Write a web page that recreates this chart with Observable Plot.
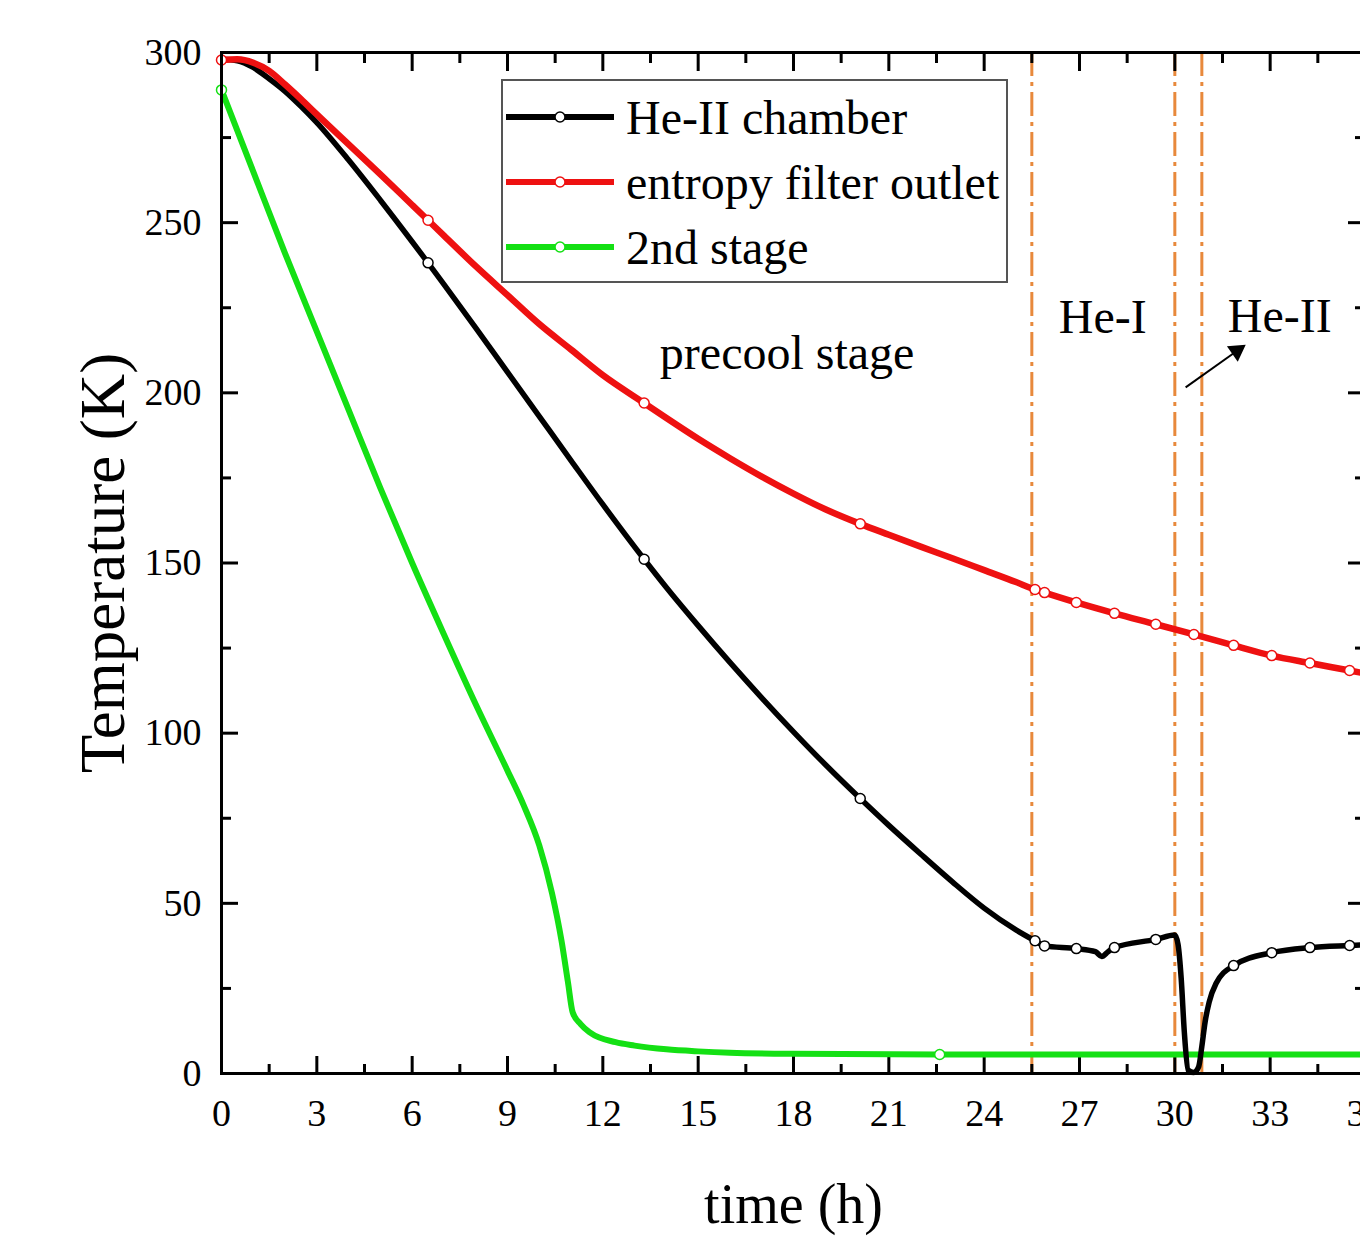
<!DOCTYPE html>
<html>
<head>
<meta charset="utf-8">
<script src="https://cdn.jsdelivr.net/npm/d3@7"></script>
<script src="https://cdn.jsdelivr.net/npm/@observablehq/plot@0.6"></script>
<style>
  body { margin: 0; background: #fff; }
  #wrap { position: relative; width: 1360px; height: 1238px; overflow: hidden; background: #fff; }
  #legend { position: absolute; left: 0; top: 0; pointer-events: none; }
</style>
</head>
<body>
<div id="wrap"></div>
<script>
// ---------------- data (time in h, temperature in K) ----------------
const heIIChamber = [
  [0,298],[0.5,297.6],[1,295.6],[1.5,292.3],[2,288.6],[2.5,284.2],[3,279.4],[4,268.4],[5,256.6],[6,244.4],
  [6.5,238.2],[7,231.9],[8,219.1],[9,206.1],[10,193.1],[11,180.1],[12,167.2],[13.3,151.1],[14,142.8],
  [15,131.6],[16,120.8],[17,110.4],[18,100.4],[19,90.8],[20.1,80.8],[21,72.9],[22,64.5],[23,56.3],
  [24,48.6],[25,42.2],[25.6,39],[25.9,37.5],[26.9,36.7],[27.5,35.8],[27.7,34.4],[27.9,35.8],[28.1,37],
  [29.4,39.4],[30.0,40.7],[30.1,38],[30.2,28],[30.3,12],[30.42,1],[30.6,0.3],[30.75,2],[30.85,8],
  [30.95,15],[31.08,21],[31.3,26.5],[31.85,31.7],[33.05,35.5],[34.25,37],[35.5,37.6],[36,37.8]
];
const entropyFilterOutlet = [
  [0,297.8],[0.5,298],[1,297],[1.5,294.6],[2,290.6],[2.5,286.3],[3,281.8],[4,273],[5,264.2],[6,255.2],
  [6.5,250.7],[7,246.2],[8,237.2],[9,228.7],[10,220.2],[11,212.7],[12,205.2],[13.3,197],[14,192.6],
  [15,186.5],[16,180.8],[17,175.4],[18,170.4],[19,165.8],[20.1,161.5],[21,158.3],[22,154.8],[23,151.4],
  [24,147.9],[25,144.4],[25.6,142.2],[25.9,141.3],[26.9,138.4],[28.1,135.2],[29.4,132],[30.6,129],
  [31.85,125.8],[33.05,122.8],[34.25,120.6],[35.5,118.4],[36,117.5]
];
const secondStage = [
  [0,289],[1,265],[2,241],[3,218],[4,195],[5,172],[6,150],[7,129],[8,108.5],[9,89],[9.5,79],[10,67],
  [10.4,53],[10.7,39],[10.9,27],[11.05,18],[11.3,14.5],[11.6,12],[12.4,9.2],[13,8.2],[14,7.1],[15,6.5],
  [16,6.1],[18,5.8],[22.6,5.6],[36,5.6]
];
// marker times (symbols drawn on the curves)
const heIIMarkers = [6.5,13.3,20.1,25.6,25.9,26.9,28.1,29.4,31.85,33.05,34.25,35.5];
const entropyMarkers = [0,6.5,13.3,20.1,25.6,25.9,26.9,28.1,29.4,30.6,31.85,33.05,34.25,35.5];
const secondMarkers = [0,22.6];

const seriesNames = ["He-II chamber", "entropy filter outlet", "2nd stage"];
const seriesColors = ["#000000", "#ee1111", "#14e014"];

const xMajorTicks = d3.range(0, 37, 3);
const xMinorTicks = d3.range(1.5, 36, 3);
const yMajorTicks = d3.range(0, 301, 50);
const yMinorTicks = d3.range(25, 300, 50);

const phaseBoundaries = [25.5, 30.0, 30.85];
const annotations = [
  {t: 17.8, T: 207, label: "precool stage"},
  {t: 27.73, T: 217.5, label: "He-I"},
  {t: 33.3, T: 218, label: "He-II"}
];
const heIIArrow = [{t1: 30.34, T1: 201.6, t2: 31.95, T2: 212.3}];

// ---------------- build ----------------
const toRows = (arr, name) => arr.map(([t, T]) => ({t, T, series: name}));
const markRows = (arr, times, name) =>
  times.map(tm => arr.find(([t]) => t === tm)).filter(Boolean).map(([t, T]) => ({t, T, series: name}));

const rowsHe = toRows(heIIChamber, seriesNames[0]);
const rowsEn = toRows(entropyFilterOutlet, seriesNames[1]);
const rowsSt = toRows(secondStage, seriesNames[2]);
const markers = [
  ...markRows(secondStage, secondMarkers, seriesNames[2]),
  ...markRows(heIIChamber, heIIMarkers, seriesNames[0]),
  ...markRows(entropyFilterOutlet, entropyMarkers, seriesNames[1])
];

const font = "'Liberation Serif', 'Times New Roman', serif";
const tickStyle = {stroke: "black", strokeWidth: 3};

const chart = Plot.plot({
  width: 1360,
  height: 1238,
  marginLeft: 221,
  marginRight: -5,
  marginTop: 52,
  marginBottom: 165,
  style: {fontFamily: font, fontSize: "38px", background: "white", color: "black"},
  x: {domain: [0, 36], range: [221, 1365], label: null},
  y: {domain: [0, 300], range: [1073, 52], label: null},
  color: {domain: seriesNames, range: seriesColors},
  marks: [
    Plot.ruleX(phaseBoundaries, {x: d => d, stroke: "#e8893c", strokeWidth: 3, strokeDasharray: "24,6,4,6"}),
    // inward ticks: bottom / top
    Plot.ruleX(xMajorTicks, {x: d => d, y1: 0, y2: 0, insetBottom: 17, ...tickStyle}),
    Plot.ruleX(xMinorTicks, {x: d => d, y1: 0, y2: 0, insetBottom: 9, ...tickStyle}),
    Plot.ruleX(xMajorTicks, {x: d => d, y1: 300, y2: 300, insetBottom: -19, ...tickStyle}),
    Plot.ruleX(xMinorTicks, {x: d => d, y1: 300, y2: 300, insetBottom: -11, ...tickStyle}),
    // inward ticks: left / right
    Plot.ruleY(yMajorTicks, {y: d => d, x1: 0, x2: 0, insetRight: -17, ...tickStyle}),
    Plot.ruleY(yMinorTicks, {y: d => d, x1: 0, x2: 0, insetRight: -10, ...tickStyle}),
    Plot.ruleY(yMajorTicks, {y: d => d, x1: 36, x2: 36, insetLeft: -17, ...tickStyle}),
    Plot.ruleY(yMinorTicks, {y: d => d, x1: 36, x2: 36, insetLeft: -10, ...tickStyle}),
    // curves
    Plot.line(rowsSt, {x: "t", y: "T", stroke: "series", strokeWidth: 6, curve: "monotone-x"}),
    Plot.line(rowsHe, {x: "t", y: "T", stroke: "series", strokeWidth: 5.5, curve: "monotone-x"}),
    Plot.line(rowsEn, {x: "t", y: "T", stroke: "series", strokeWidth: 6.5, curve: "monotone-x"}),
    Plot.dot(markers, {x: "t", y: "T", r: 5, fill: "white", stroke: "series", strokeWidth: 1.5}),
    Plot.frame({stroke: "black", strokeWidth: 3}),
    // axes labels
    Plot.axisX({ticks: xMajorTicks, tickSize: 0, tickPadding: 26, fontSize: 38, label: null}),
    Plot.axisY({ticks: yMajorTicks, tickSize: 0, tickPadding: 20, fontSize: 38, label: null}),
    // annotations
    Plot.text(annotations, {x: "t", y: "T", text: "label", lineAnchor: "bottom", fontSize: 48, fill: "black"}),
    Plot.link(heIIArrow, {x1: "t1", y1: "T1", x2: "t2", y2: "T2", stroke: "black", strokeWidth: 2}),
    Plot.dot(heIIArrow, {x: "t2", y: "T2", symbol: "triangle", r: 7, rotate: 55, fill: "black", stroke: "none"}),
    Plot.text(["time (h)"], {frameAnchor: "bottom", textAnchor: "middle", lineAnchor: "bottom", dy: 149, fontSize: 56, fill: "black"}),
    Plot.text(["Temperature (K)"], {frameAnchor: "left", textAnchor: "middle", lineAnchor: "middle", rotate: -90, dx: -118, fontSize: 63, fill: "black"})
  ]
});
document.getElementById("wrap").appendChild(chart);

// ---------------- legend (overlay) ----------------
const leg = d3.select("#wrap").append("svg")
  .attr("id", "legend").attr("width", 1360).attr("height", 1238)
  .style("font-family", font);
leg.append("rect")
  .attr("x", 502).attr("y", 80).attr("width", 505).attr("height", 202)
  .attr("fill", "white").attr("stroke", "#555").attr("stroke-width", 2);
seriesNames.forEach((name, i) => {
  const cy = 117 + i * 65;
  const g = leg.append("g");
  g.append("line").attr("x1", 506).attr("x2", 614).attr("y1", cy).attr("y2", cy)
    .attr("stroke", seriesColors[i]).attr("stroke-width", 6);
  g.append("circle").attr("cx", 560).attr("cy", cy).attr("r", 5)
    .attr("fill", "white").attr("stroke", seriesColors[i]).attr("stroke-width", 1.5);
  g.append("text").attr("x", 626).attr("y", cy).attr("dy", "0.35em")
    .attr("font-size", 48).attr("fill", "black").text(name);
});
</script>
</body>
</html>
